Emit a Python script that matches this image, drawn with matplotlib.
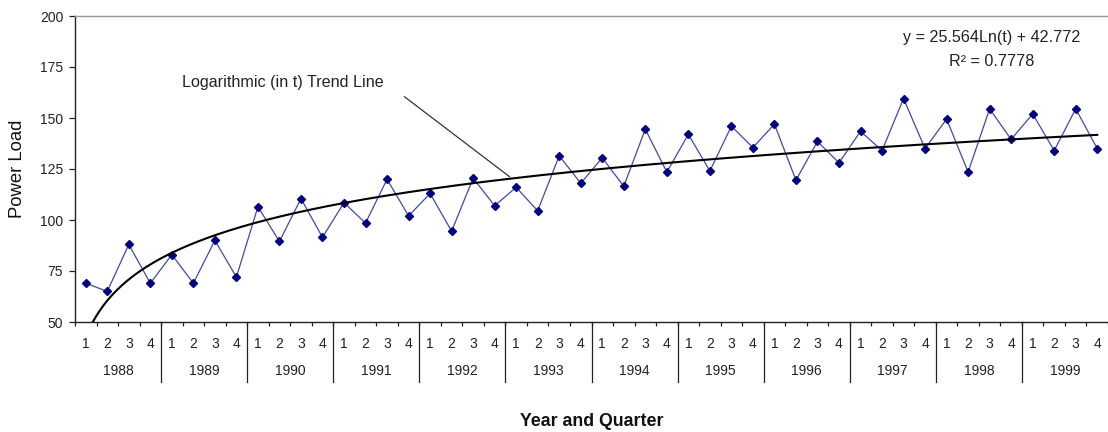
import numpy as np
import matplotlib
matplotlib.use("Agg")
import matplotlib.pyplot as plt

plt.rcParams['font.family'] = ['Liberation Sans', 'DejaVu Sans']

years = ['1988', '1989', '1990', '1991', '1992', '1993',
         '1994', '1995', '1996', '1997', '1998', '1999']
quarters = ['1', '2', '3', '4']
power_load = [69, 65, 88, 69,
              83, 69, 90, 72,
              106.5, 89.5, 110.5, 91.5,
              108.5, 98.5, 120, 102,
              113, 94.5, 120.5, 107,
              116, 104.5, 131.5, 118,
              130.5, 116.5, 144.5, 123.5,
              142, 124, 146, 135.5,
              147, 119.5, 138.5, 128,
              143.5, 134, 159.5, 135,
              149.5, 123.5, 154.5, 139.5,
              152, 134, 154.5, 135]
trend_slope = 25.564
trend_intercept = 42.772
r_squared = 0.7778
y_ticks = [50, 75, 100, 125, 150, 175, 200]

W, H = 1108, 432
fig = plt.figure(figsize=(W / 100, H / 100), dpi=100)
ax = fig.add_axes([75 / W, 110 / H, 1033 / W, 306 / H])

n = len(power_load)
x = np.arange(n)
ax.plot(x, power_load, color='#4646aa', lw=0.9, marker='D', markersize=4.1,
        markerfacecolor='#000080', markeredgecolor='#000080', zorder=3)

t = np.linspace(1, n, 600)
trend = trend_slope * np.log(t) + trend_intercept
ax.plot(t - 1, trend, color='black', lw=1.5, zorder=4)

ax.set_xlim(-0.5, n - 0.5)
ax.set_ylim(50, 200)
ax.set_yticks(y_ticks)
ax.set_yticklabels([str(v) for v in y_ticks], fontsize=10, color='#222222')
ax.tick_params(axis='y', direction='out', length=4.5, width=0.9, pad=4, color='#222222')

# x axis: minor ticks at category boundaries, quarter/year labels as text
ax.set_xticks([])
ax.set_xticks(np.arange(-0.5, n, 1.0), minor=True)
ax.tick_params(axis='x', which='minor', direction='out', length=3, width=0.9, color='#222222')
xt = ax.get_xaxis_transform()
for i in range(n):
    ax.annotate(quarters[i % 4], xy=(i, 0), xycoords=xt, xytext=(0, -18.9),
                textcoords='offset points', ha='center', va='baseline',
                fontsize=10, color='#222222', annotation_clip=False)
for k, yr in enumerate(years):
    ax.annotate(yr, xy=(4 * k + 1.5, 0), xycoords=xt, xytext=(0, -38.2),
                textcoords='offset points', ha='center', va='baseline',
                fontsize=10, color='#222222', annotation_clip=False)
for k in range(1, len(years)):
    ax.plot([4 * k - 0.5, 4 * k - 0.5], [0, -60 / 306], transform=xt,
            color='#222222', lw=0.9, clip_on=False)

for s in ['left', 'bottom']:
    ax.spines[s].set_color('#222222')
    ax.spines[s].set_linewidth(1.0)
ax.spines['top'].set_color('#9a9a9a')
ax.spines['top'].set_linewidth(1.0)
ax.spines['right'].set_visible(False)

# annotation for the trend line
t_arrow = 20.8
y_arrow = trend_slope * np.log(t_arrow) + trend_intercept
ax.annotate('', xy=(t_arrow - 1, y_arrow), xytext=(14.7, 161.3),
            arrowprops=dict(arrowstyle='-', color='#333333', lw=0.9))
ax.text(9.15, 167.2, 'Logarithmic (in t) Trend Line', ha='center', va='center',
        fontsize=11.6, color='#222222')

ax.text(42.1, 189.7, f'y = {trend_slope}Ln(t) + {trend_intercept}', ha='center',
        va='center', fontsize=11.6, color='#222222')
ax.text(42.1, 177.5, f'R² = {r_squared}', ha='center', va='center',
        fontsize=11.6, color='#222222')

fig.text(18 / W, (H - 169) / H, 'Power Load', rotation=90, ha='center',
         va='center', fontsize=13.3, color='#111111')
fig.text(592 / W, (H - 421) / H, 'Year and Quarter', ha='center', va='center',
         fontsize=12.8, fontweight='bold', color='#111111')

fig.savefig('out.png', dpi=100)
